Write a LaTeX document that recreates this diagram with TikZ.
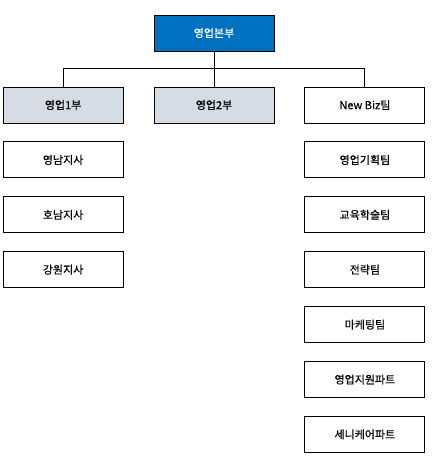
\documentclass[tikz,border=0pt]{standalone}
\usepackage{fontspec}
\setmainfont{Noto Sans CJK KR}[FakeBold=0.5]
\usetikzlibrary{positioning}
\definecolor{headblue}{HTML}{0070C0}
\definecolor{divgray}{HTML}{D6DCE4}
\tikzset{
  unit/.style={draw,rectangle,minimum width=120pt,minimum height=36pt,inner sep=0pt,line width=0.9pt,font=\fontsize{11}{13}\selectfont},
  head/.style={unit,fill=headblue,text=white},
  div/.style={unit,fill=divgray},
}
\begin{document}
\begin{tikzpicture}[x=1pt,y=-1pt,node distance=18pt and 30pt]
  \useasboundingbox (0,0) rectangle (432,457);
  \node [head] (hq) at (214,33) {영업본부};
  \node [div] (d2) at (214,105) {영업2부};
  \node [div,left=of d2] (d1) {영업1부};
  \node [unit,right=of d2] (nb) {New Biz팀};

  % branches
  \node [unit,below=of d1] (yn) {영남지사};
  \node [unit,below=of yn] (hn) {호남지사};
  \node [unit,below=of hn] (gw) {강원지사};

  % teams
  \node [unit,below=of nb] (plan) {영업기획팀};
  \node [unit,below=of plan] (edu) {교육학술팀};
  \node [unit,below=of edu] (strat) {전략팀};
  \node [unit,below=of strat] (mkt) {마케팅팀};
  \node [unit,below=of mkt] (sup) {영업지원파트};
  \node [unit,below=of sup] (care) {세니케어파트};

  \draw[line width=0.9pt] (hq.south) -- (d2.north);
  \draw[line width=0.9pt] (d1.north) -- ++(0,-18) -| (nb.north);
\end{tikzpicture}
\end{document}
